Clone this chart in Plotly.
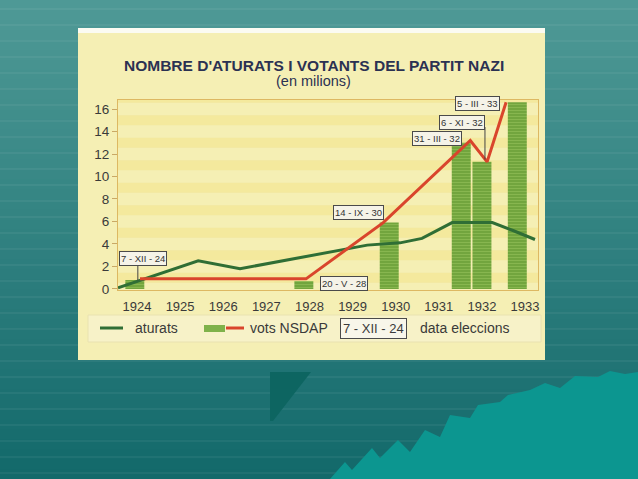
import plotly.graph_objects as go

W, H = 638, 479

# ---------------- data ----------------
year_ticks = [1924, 1925, 1926, 1927, 1928, 1929, 1930, 1931, 1932, 1933]
year_labels = [str(y) for y in year_ticks]

# aturats (unemployed, millions) - green line
atur_x = [1923.56, 1925.42, 1926.39, 1929.34, 1930.10, 1930.61, 1931.31, 1932.24, 1932.72, 1933.23]
atur_y = [0.1, 2.5, 1.8, 3.9, 4.1, 4.5, 5.9, 5.9, 5.2, 4.4]

# vots NSDAP (millions) - bars
elec_labels = ["7 - XII - 24", "20 - V - 28", "14 - IX - 30", "31 - III - 32", "6 - XI - 32", "5 - III - 33"]
bar_x = [1923.95, 1927.87, 1929.85, 1931.52, 1932.00, 1932.82]
bar_y = [0.8, 0.7, 5.9, 13.0, 11.3, 16.6]

# vots NSDAP - red line
vot_x = [1924.07, 1927.92, 1929.71, 1931.73, 1932.12, 1932.56]
vot_y = [0.9, 0.9, 5.9, 13.2, 11.3, 16.6]

y_ticks = [0, 2, 4, 6, 8, 10, 12, 14, 16]

# ---------------- helpers ----------------
def px(x):
    return x / W

def py(y):
    return 1 - y / H

def hexlerp(c1, c2, t):
    a = [int(c1[i:i + 2], 16) for i in (1, 3, 5)]
    b = [int(c2[i:i + 2], 16) for i in (1, 3, 5)]
    return "#%02x%02x%02x" % tuple(round(a[k] + (b[k] - a[k]) * t) for k in range(3))

FONT = "Liberation Sans, Arial, sans-serif"
shapes = []
annotations = []

# teal slide background (gradient bands + thin light stripes)
nb = 48
for i in range(nb):
    y0 = i * H / nb
    y1 = (i + 1) * H / nb + 0.5
    col = hexlerp("#4f9a96", "#12686a", (i + 0.5) / nb)
    shapes.append(dict(type="rect", xref="paper", yref="paper", x0=0, x1=1,
                       y0=py(y1), y1=py(y0), fillcolor=col, line_width=0, layer="below"))
for yy in range(9, H, 16):
    shapes.append(dict(type="line", xref="paper", yref="paper", x0=0, x1=1,
                       y0=py(yy), y1=py(yy), line=dict(color="rgba(255,255,255,0.10)", width=1),
                       layer="below"))

# decorative shapes at lower right
shapes.append(dict(type="path", xref="paper", yref="paper", layer="below",
                   path="M %f %f L %f %f L %f %f L %f %f Z" % (px(270), py(372), px(311), py(372),
                                                               px(273), py(421), px(270), py(421)),
                   fillcolor="#0d6561", line_width=0))
jag = [(330, 479), (345, 462), (352, 470), (372, 448), (380, 458), (398, 440), (410, 452),
       (425, 430), (440, 437), (450, 415), (470, 418), (478, 405), (500, 402), (508, 395),
       (530, 390), (545, 383), (560, 388), (575, 376), (598, 377), (610, 371), (625, 374),
       (638, 372), (638, 479)]
path = "M " + " L ".join("%f %f" % (px(a), py(b)) for a, b in jag) + " Z"
shapes.append(dict(type="path", xref="paper", yref="paper", layer="below", path=path,
                   fillcolor="#0c9690", line_width=0))

# yellow picture panel
shapes.append(dict(type="rect", xref="paper", yref="paper", x0=px(78), x1=px(545),
                   y0=py(360), y1=py(28), fillcolor="#f5efb4", line_width=0, layer="below"))
shapes.append(dict(type="rect", xref="paper", yref="paper", x0=px(78), x1=px(545),
                   y0=py(33), y1=py(28), fillcolor="#fbfbf2", line_width=0, layer="below"))

# plot-area yellow bands
for k in range(0, 17, 2):
    shapes.append(dict(type="rect", xref="x domain", yref="y", x0=0, x1=1,
                       y0=k + 0.55, y1=k + 1.45, fillcolor="#f2e38a", opacity=0.55,
                       line_width=0, layer="below"))

# legend frame
shapes.append(dict(type="rect", xref="paper", yref="paper", x0=px(88), x1=px(541),
                   y0=py(342), y1=py(315), fillcolor="#f7f2c8",
                   line=dict(color="#e9e2b0", width=1), layer="below"))
shapes.append(dict(type="line", xref="paper", yref="paper", x0=px(100), x1=px(123),
                   y0=py(328), y1=py(328), line=dict(color="#2f6e35", width=3)))
shapes.append(dict(type="rect", xref="paper", yref="paper", x0=px(204), x1=px(225),
                   y0=py(332), y1=py(325), fillcolor="#7fb24a", line_width=0))
shapes.append(dict(type="line", xref="paper", yref="paper", x0=px(226), x1=px(244),
                   y0=py(328), y1=py(328), line=dict(color="#d9452c", width=3)))

# connector lines for election labels
shapes.append(dict(type="line", xref="x", yref="y", x0=1924.02, x1=1924.02, y0=2.3, y1=0.75,
                   line=dict(color="#444", width=1)))
shapes.append(dict(type="line", xref="x", yref="y", x0=1932.07, x1=1932.07, y0=14.4, y1=11.5,
                   line=dict(color="#444", width=1)))

# ---------------- traces ----------------
fig = go.Figure()
fig.add_trace(go.Bar(
    x=bar_x, y=bar_y, width=0.44, name="vots NSDAP",
    marker=dict(color="#72a63c", line_width=0,
                pattern=dict(shape="-", fgcolor="#a2cc64", bgcolor="#6da13a", size=3, solidity=0.45)),
    hoverinfo="skip"))
fig.add_trace(go.Scatter(x=atur_x, y=atur_y, mode="lines", name="aturats",
                         line=dict(color="#2f6e35", width=3), cliponaxis=True))
fig.add_trace(go.Scatter(x=vot_x, y=vot_y, mode="lines", name="vots NSDAP",
                         line=dict(color="#d9452c", width=3), cliponaxis=True))

# ---------------- annotations ----------------
def ann(**kw):
    kw.setdefault("xanchor", "center")
    kw.setdefault("yanchor", "middle")
    kw.setdefault("showarrow", False)
    annotations.append(kw)

ann(xref="paper", yref="paper", x=px(314), y=py(65),
    text="<b>NOMBRE D'ATURATS I VOTANTS DEL PARTIT NAZI</b>",
    font=dict(family=FONT, size=15.5, color="#2b3152"))
ann(xref="paper", yref="paper", x=px(313), y=py(81), text="(en milions)",
    font=dict(family=FONT, size=14.5, color="#2b3152"))

label_pos = [(1924.14, 2.67), (1928.80, 0.53), (1929.13, 6.84),
             (1930.96, 13.42), (1931.54, 14.84), (1931.89, 16.53)]
for txt, (lx, ly) in zip(elec_labels, label_pos):
    ann(xref="x", yref="y", x=lx, y=ly, text=txt,
        bgcolor="#f5f3e8", bordercolor="#4a4a4a", borderwidth=1, borderpad=1,
        font=dict(family=FONT, size=9.5, color="#333"))

ann(xref="paper", yref="paper", x=px(133), y=py(328), xanchor="left", text="aturats",
    font=dict(family=FONT, size=14, color="#3a3a3a"))
ann(xref="paper", yref="paper", x=px(248), y=py(328), xanchor="left", text="vots NSDAP",
    font=dict(family=FONT, size=14, color="#3a3a3a"))
ann(xref="paper", yref="paper", x=px(373), y=py(328), text=elec_labels[0],
    bgcolor="#f8f6ea", bordercolor="#4a4a4a", borderwidth=1, borderpad=2,
    font=dict(family=FONT, size=13, color="#3a3a3a"))
ann(xref="paper", yref="paper", x=px(418), y=py(328), xanchor="left", text="data eleccions",
    font=dict(family=FONT, size=14, color="#3a3a3a"))

fig.update_layout(
    width=W, height=H, autosize=False,
    margin=dict(l=0, r=0, t=0, b=0, pad=0, autoexpand=False),
    paper_bgcolor="#2f807c", plot_bgcolor="#f7f0bc",
    showlegend=False, barmode="overlay",
    shapes=shapes, annotations=annotations,
    font=dict(family=FONT),
    xaxis=dict(domain=[px(118), px(538)], range=[1923.56, 1933.30], automargin=False,
               tickvals=year_ticks, ticktext=year_labels,
               showgrid=False, zeroline=False, showline=True, linecolor="#ddb862", linewidth=1,
               mirror=True, ticks="outside", ticklen=4, tickcolor="rgba(0,0,0,0)",
               tickfont=dict(family=FONT, size=13, color="#3a3a3a")),
    yaxis=dict(domain=[py(290), py(100)], range=[-0.09, 16.8], automargin=False,
               tickvals=y_ticks, showgrid=False, zeroline=False, showline=True,
               linecolor="#ddb862", linewidth=1, mirror=True,
               ticks="outside", ticklen=5, tickcolor="#c9a866",
               tickfont=dict(family=FONT, size=13.5, color="#3a3a3a")),
)

fig.write_html(
    "out.html",
    config={"displayModeBar": False},
    post_script="document.body.style.margin='0';document.body.style.overflow='hidden';",
)
